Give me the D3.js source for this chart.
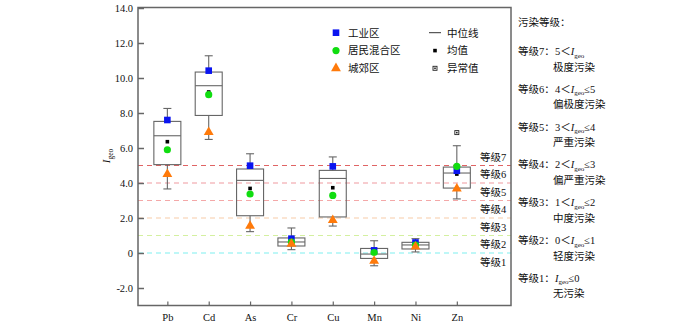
<!DOCTYPE html>
<html><head><meta charset="utf-8">
<script src="https://cdn.jsdelivr.net/npm/d3@7"></script>
<style>
body{margin:0;background:#fff;}
svg text{font-family:"Liberation Serif","Noto Sans CJK SC",serif;fill:#111;}
</style></head>
<body><svg id="c" width="700" height="325"></svg>
<script>
const categories = ["Pb","Cd","As","Cr","Cu","Mn","Ni","Zn"];
const whiskerLow  = [3.66, 6.49, 1.22, 0.19, 1.54, -0.73, 0.06, 3.09];
const q1          = [5.05, 7.86, 2.13, 0.40, 2.06, -0.31, 0.23, 3.71];
const median      = [6.70, 9.56, 4.15, 0.63, 4.26, -0.06, 0.46, 4.57];
const q3          = [7.52, 10.34, 4.80, 0.86, 4.72, 0.26, 0.61, 4.91];
const whiskerHigh = [8.26, 11.27, 5.67, 1.43, 5.49, 0.70, 0.82, 6.13];
const meanVals    = [6.36, 9.20, 3.69, 0.66, 3.73, 0.00, 0.45, 4.51];
const industrial  = [7.60, 10.42, 4.99, 0.82, 4.95, 0.15, 0.60, 4.70];
const residential = [5.90, 9.05, 3.37, 0.62, 3.29, 0.03, 0.45, 4.95];
const suburban    = [4.50, 6.90, 1.55, 0.52, 1.87, -0.45, 0.36, 3.68];
const outliers    = [{cat:"Zn", v:6.88}];
const yTicks = [-2,0,2,4,6,8,10,12,14];
const levelLines = [0,1,2,3,4,5];
const levelColors = ["#7ff0f0","#d4f0a0","#f8cca8","#f4a8a8","#f09aa0","#e06464"];
const levelLabels = ["等级1","等级2","等级3","等级4","等级5","等级6","等级7"];
const levelLabelPos = [-0.5,0.5,1.5,2.5,3.5,4.5,5.5];
const legendLeft = ["工业区","居民混合区","城郊区"];
const legendRight = ["中位线","均值","异常值"];
const panelTitle = "污染等级：";
const panelItems = [
  {k:"等级7：", pre:"5＜", post:"", desc:"极度污染"},
  {k:"等级6：", pre:"4＜", post:"≤5", desc:"偏极度污染"},
  {k:"等级5：", pre:"3＜", post:"≤4", desc:"严重污染"},
  {k:"等级4：", pre:"2＜", post:"≤3", desc:"偏严重污染"},
  {k:"等级3：", pre:"1＜", post:"≤2", desc:"中度污染"},
  {k:"等级2：", pre:"0＜", post:"≤1", desc:"轻度污染"},
  {k:"等级1：", pre:"", post:"≤0", desc:"无污染"}
];

const svg = d3.select("#c");
const L=138, R=511, T=7.5, B=305.5;
const x = d3.scaleLinear().domain([0.29, 9.31]).range([L, R]);
const y = d3.scaleLinear().domain([-3, 14]).range([B, T+0.5]);
const xi = i => x(i+1);
const axisCol = "#666";

// level dashed lines
svg.append("g").selectAll("line").data(levelLines).join("line")
  .attr("x1", L).attr("x2", R).attr("y1", d=>y(d)).attr("y2", d=>y(d))
  .attr("stroke", (d,i)=>levelColors[i]).attr("stroke-width",1.2)
  .attr("stroke-dasharray","5,4");

// level labels
svg.append("g").selectAll("text").data(levelLabels).join("text")
  .attr("x", 480).attr("y", (d,i)=>y(levelLabelPos[i])+3.8)
  .attr("font-size","10.5px").text(d=>d);

// frame
svg.append("rect").attr("x",L).attr("y",T).attr("width",R-L).attr("height",B-T)
  .attr("fill","none").attr("stroke",axisCol).attr("stroke-width",1.5);

// y axis
const yAxis = d3.axisLeft(y).tickValues(yTicks).tickSizeInner(-6).tickSizeOuter(0)
  .tickPadding(5).tickFormat(d=> d===0 ? "0" : d.toFixed(1));
const gy = svg.append("g").attr("transform",`translate(${L},0)`).call(yAxis);
gy.select(".domain").remove();
gy.selectAll("line").attr("stroke",axisCol).attr("stroke-width",1.5);
gy.selectAll("text").attr("font-size","10.5px").attr("fill","#111")
  .style("font-family","Liberation Serif");

// x axis
const xAxis = d3.axisBottom(x).tickValues(categories.map((c,i)=>i+1))
  .tickSizeInner(-4).tickSizeOuter(0).tickPadding(8).tickFormat((d)=>categories[d-1]);
const gx = svg.append("g").attr("transform",`translate(0,${B})`).call(xAxis);
gx.select(".domain").remove();
gx.selectAll("line").attr("stroke",axisCol).attr("stroke-width",1.2);
gx.selectAll("text").attr("font-size","10.5px").attr("fill","#111")
  .style("font-family","Liberation Serif");

// y title
const yt = svg.append("text").attr("transform","translate(110,156) rotate(-90)")
  .attr("text-anchor","middle").attr("font-size","11px");
yt.append("tspan").attr("font-style","italic").text("I");
yt.append("tspan").attr("font-size","7.5px").attr("dy","2.5").text("geo");

// boxes
const bw = 27, cw = 8;
const gb = svg.append("g").attr("stroke","#666").attr("fill","none").attr("stroke-width",1.1);
categories.forEach((c,i)=>{
  const cx = xi(i);
  gb.append("line").attr("x1",cx).attr("x2",cx).attr("y1",y(whiskerHigh[i])).attr("y2",y(q3[i]));
  gb.append("line").attr("x1",cx).attr("x2",cx).attr("y1",y(q1[i])).attr("y2",y(whiskerLow[i]));
  gb.append("line").attr("x1",cx-cw/2).attr("x2",cx+cw/2).attr("y1",y(whiskerHigh[i])).attr("y2",y(whiskerHigh[i]));
  gb.append("line").attr("x1",cx-cw/2).attr("x2",cx+cw/2).attr("y1",y(whiskerLow[i])).attr("y2",y(whiskerLow[i]));
  gb.append("rect").attr("x",cx-bw/2).attr("width",bw).attr("y",y(q3[i])).attr("height",y(q1[i])-y(q3[i]));
  gb.append("line").attr("x1",cx-bw/2).attr("x2",cx+bw/2).attr("y1",y(median[i])).attr("y2",y(median[i]));
});

// outliers
function outlierMark(g, cx, cy){
  g.append("rect").attr("x",cx-2).attr("y",cy-2).attr("width",4).attr("height",4)
    .attr("fill","#fff").attr("stroke","#222").attr("stroke-width",0.9);
  g.append("rect").attr("x",cx-0.8).attr("y",cy-0.8).attr("width",1.6).attr("height",1.6).attr("fill","#222");
}
const go = svg.append("g");
outliers.forEach(o=> outlierMark(go, xi(categories.indexOf(o.cat)), y(o.v)));

// markers
const gm = svg.append("g");
const tri = d3.symbol().type(d3.symbolTriangle).size(42);
categories.forEach((c,i)=>{
  const cx = xi(i);
  gm.append("rect").attr("x",cx-1.8).attr("y",y(meanVals[i])-1.8).attr("width",3.6).attr("height",3.6).attr("fill","#000");
});
categories.forEach((c,i)=>{
  const cx = xi(i);
  gm.append("rect").attr("x",cx-3.3).attr("y",y(industrial[i])-3.3).attr("width",6.6).attr("height",6.6).attr("fill","#0a14f0");
});
categories.forEach((c,i)=>{
  gm.append("circle").attr("cx",xi(i)).attr("cy",y(residential[i])).attr("r",3.6).attr("fill","#10dd10");
});
categories.forEach((c,i)=>{
  gm.append("path").attr("d",tri).attr("transform",`translate(${xi(i)},${y(suburban[i])})`).attr("fill","#ff7a0a");
});

// legend
const lg = svg.append("g");
const rowY = [32.7, 50.6, 68.3];
lg.append("rect").attr("x",336-3.3).attr("y",rowY[0]-3.3).attr("width",6.6).attr("height",6.6).attr("fill","#0a14f0");
lg.append("circle").attr("cx",336).attr("cy",rowY[1]).attr("r",3.6).attr("fill","#10dd10");
lg.append("path").attr("d",tri).attr("transform",`translate(336,${rowY[2]})`).attr("fill","#ff7a0a");
lg.selectAll("text.l").data(legendLeft).join("text").attr("class","l")
  .attr("x",348).attr("y",(d,i)=>rowY[i]+3.8).attr("font-size","10.5px").text(d=>d);
lg.append("line").attr("x1",429).attr("x2",441).attr("y1",rowY[0]).attr("y2",rowY[0]).attr("stroke","#333").attr("stroke-width",1);
lg.append("rect").attr("x",435-1.8).attr("y",rowY[1]-1.8).attr("width",3.6).attr("height",3.6).attr("fill","#000");
outlierMark(lg, 435, rowY[2]);
lg.selectAll("text.r").data(legendRight).join("text").attr("class","r")
  .attr("x",447).attr("y",(d,i)=>rowY[i]+3.8).attr("font-size","10.5px").text(d=>d);

// right panel
const pg = svg.append("g").attr("font-size","10.5px");
pg.append("text").attr("x",518).attr("y",26).text(panelTitle);
panelItems.forEach((it,j)=>{
  const k = 7-j;
  const cy = 278 - 37.8*(k-1);
  const t = pg.append("text").attr("x",518).attr("y",cy+3.8);
  t.append("tspan").text(it.k);
  const t2 = pg.append("text").attr("x",555).attr("y",cy+3.8);
  if(it.pre) t2.append("tspan").text(it.pre);
  t2.append("tspan").attr("font-style","italic").text("I");
  t2.append("tspan").attr("font-size","7px").attr("dy","2.5").text("geo");
  if(it.post) t2.append("tspan").attr("dy","-2.5").text(it.post);
  pg.append("text").attr("x",553).attr("y",cy+15.5+3.8).text(it.desc);
});
</script></body></html>
